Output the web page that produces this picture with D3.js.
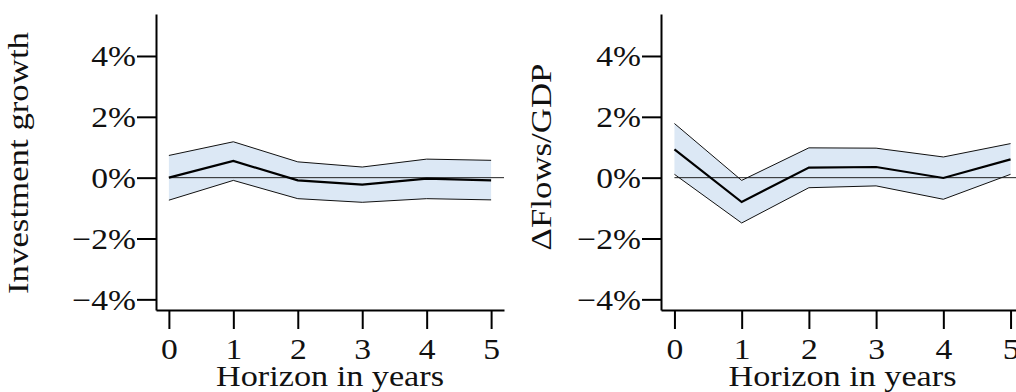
<!DOCTYPE html>
<html>
<head>
<meta charset="utf-8">
<script src="https://cdn.jsdelivr.net/npm/d3@7"></script>
<style>
  html, body { margin: 0; padding: 0; background: #fff; }
  text { font-family: "Liberation Serif", "DejaVu Serif", serif; fill: #111; }
</style>
</head>
<body>
<div class="mainDiv"></div>
<script>
// horizons and responses (in %)
const horizon = [0, 1, 2, 3, 4, 5];
const invMean  = [0.00, 0.55, -0.09, -0.23, -0.03, -0.09];
const invUpper = [0.73, 1.18, 0.52, 0.35, 0.61, 0.57];
const invLower = [-0.74, -0.09, -0.69, -0.81, -0.69, -0.73];
const flowMean  = [0.93, -0.80, 0.33, 0.35, -0.01, 0.60];
const flowUpper = [1.78, -0.09, 0.98, 0.97, 0.68, 1.12];
const flowLower = [0.11, -1.49, -0.33, -0.27, -0.71, 0.11];
const yTicks = [-4, -2, 0, 2, 4];
const xTitle = "Horizon in years";

const W = 1016, H = 392;
const fontSize = 30;
const stretch = 1.12; // latex font is wider than Liberation Serif
const svg = d3.select('.mainDiv').append('svg')
  .attr('width', W).attr('height', H);
svg.append('rect').attr('width', W).attr('height', H).attr('fill', '#fff');

const fmt = d3.format('d');

function panel(opts, mean, upper, lower){
  const g = svg.append('g');
  const x = d3.scaleLinear().domain([-0.2, 5.2]).range([opts.left, opts.right]);
  const y = d3.scaleLinear().domain([-4.35, 5.38]).range([310, 14]);

  const rows = horizon.map((h, i) => ({h: h, m: mean[i], u: upper[i], l: lower[i]}));

  // confidence band
  g.append('path')
    .datum(rows)
    .attr('fill', '#dce8f5')
    .attr('d', d3.area().x(d => x(d.h)).y0(d => y(d.l)).y1(d => y(d.u)));

  // zero line
  g.append('line')
    .attr('x1', x(0)).attr('x2', x(5.2))
    .attr('y1', y(0)).attr('y2', y(0))
    .attr('stroke', '#222').attr('stroke-width', 1);

  // band edges
  ['u', 'l'].forEach(k => {
    g.append('path')
      .datum(rows)
      .attr('fill', 'none')
      .attr('stroke', '#111')
      .attr('stroke-width', 1)
      .attr('d', d3.line().x(d => x(d.h)).y(d => y(d[k])));
  });

  // point estimate
  g.append('path')
    .datum(rows)
    .attr('fill', 'none')
    .attr('stroke', '#000')
    .attr('stroke-width', 2.2)
    .attr('d', d3.line().x(d => x(d.h)).y(d => y(d.m)));

  // axes
  const xAxis = g.append('g')
    .attr('transform', `translate(0,${y(-4.35)})`)
    .call(d3.axisBottom(x).tickValues(horizon).tickSize(19).tickSizeOuter(0).tickPadding(9)
      .tickFormat(fmt));
  const yAxis = g.append('g')
    .attr('transform', `translate(${x(-0.2)},0)`)
    .call(d3.axisLeft(y).tickValues(yTicks).tickSize(19).tickSizeOuter(0).tickPadding(1)
      .tickFormat(d => fmt(d) + '%'));

  [xAxis, yAxis].forEach(a => {
    a.selectAll('path, line').attr('stroke', '#000').attr('stroke-width', 2);
    a.selectAll('text')
      .style('font-family', '"Liberation Serif", "DejaVu Serif", serif')
      .style('font-size', fontSize + 'px')
      .attr('fill', '#111')
      .attr('transform', `scale(${stretch},1)`);
  });
  yAxis.selectAll('text').attr('dy', '0.33em').attr('x', -20 / stretch);

  // x title
  g.append('text')
    .attr('x', x(2.5))
    .attr('y', 386)
    .attr('text-anchor', 'middle')
    .attr('textLength', 228)
    .attr('lengthAdjust', 'spacingAndGlyphs')
    .style('font-size', fontSize + 'px')
    .text(xTitle);

  // y title
  g.append('text')
    .attr('transform', `translate(${opts.yTitleX},${opts.yTitleY}) rotate(-90)`)
    .attr('text-anchor', 'middle')
    .attr('textLength', opts.yTitleLen)
    .attr('lengthAdjust', 'spacingAndGlyphs')
    .style('font-size', fontSize + 'px')
    .text(opts.yTitle);
}

panel({left: 156, right: 504, yTitle: 'Investment growth', yTitleX: 28, yTitleY: 163, yTitleLen: 262},
  invMean, invUpper, invLower);
panel({left: 661, right: 1024, yTitle: 'ΔFlows/GDP', yTitleX: 551, yTitleY: 157, yTitleLen: 187},
  flowMean, flowUpper, flowLower);
</script>
</body>
</html>
